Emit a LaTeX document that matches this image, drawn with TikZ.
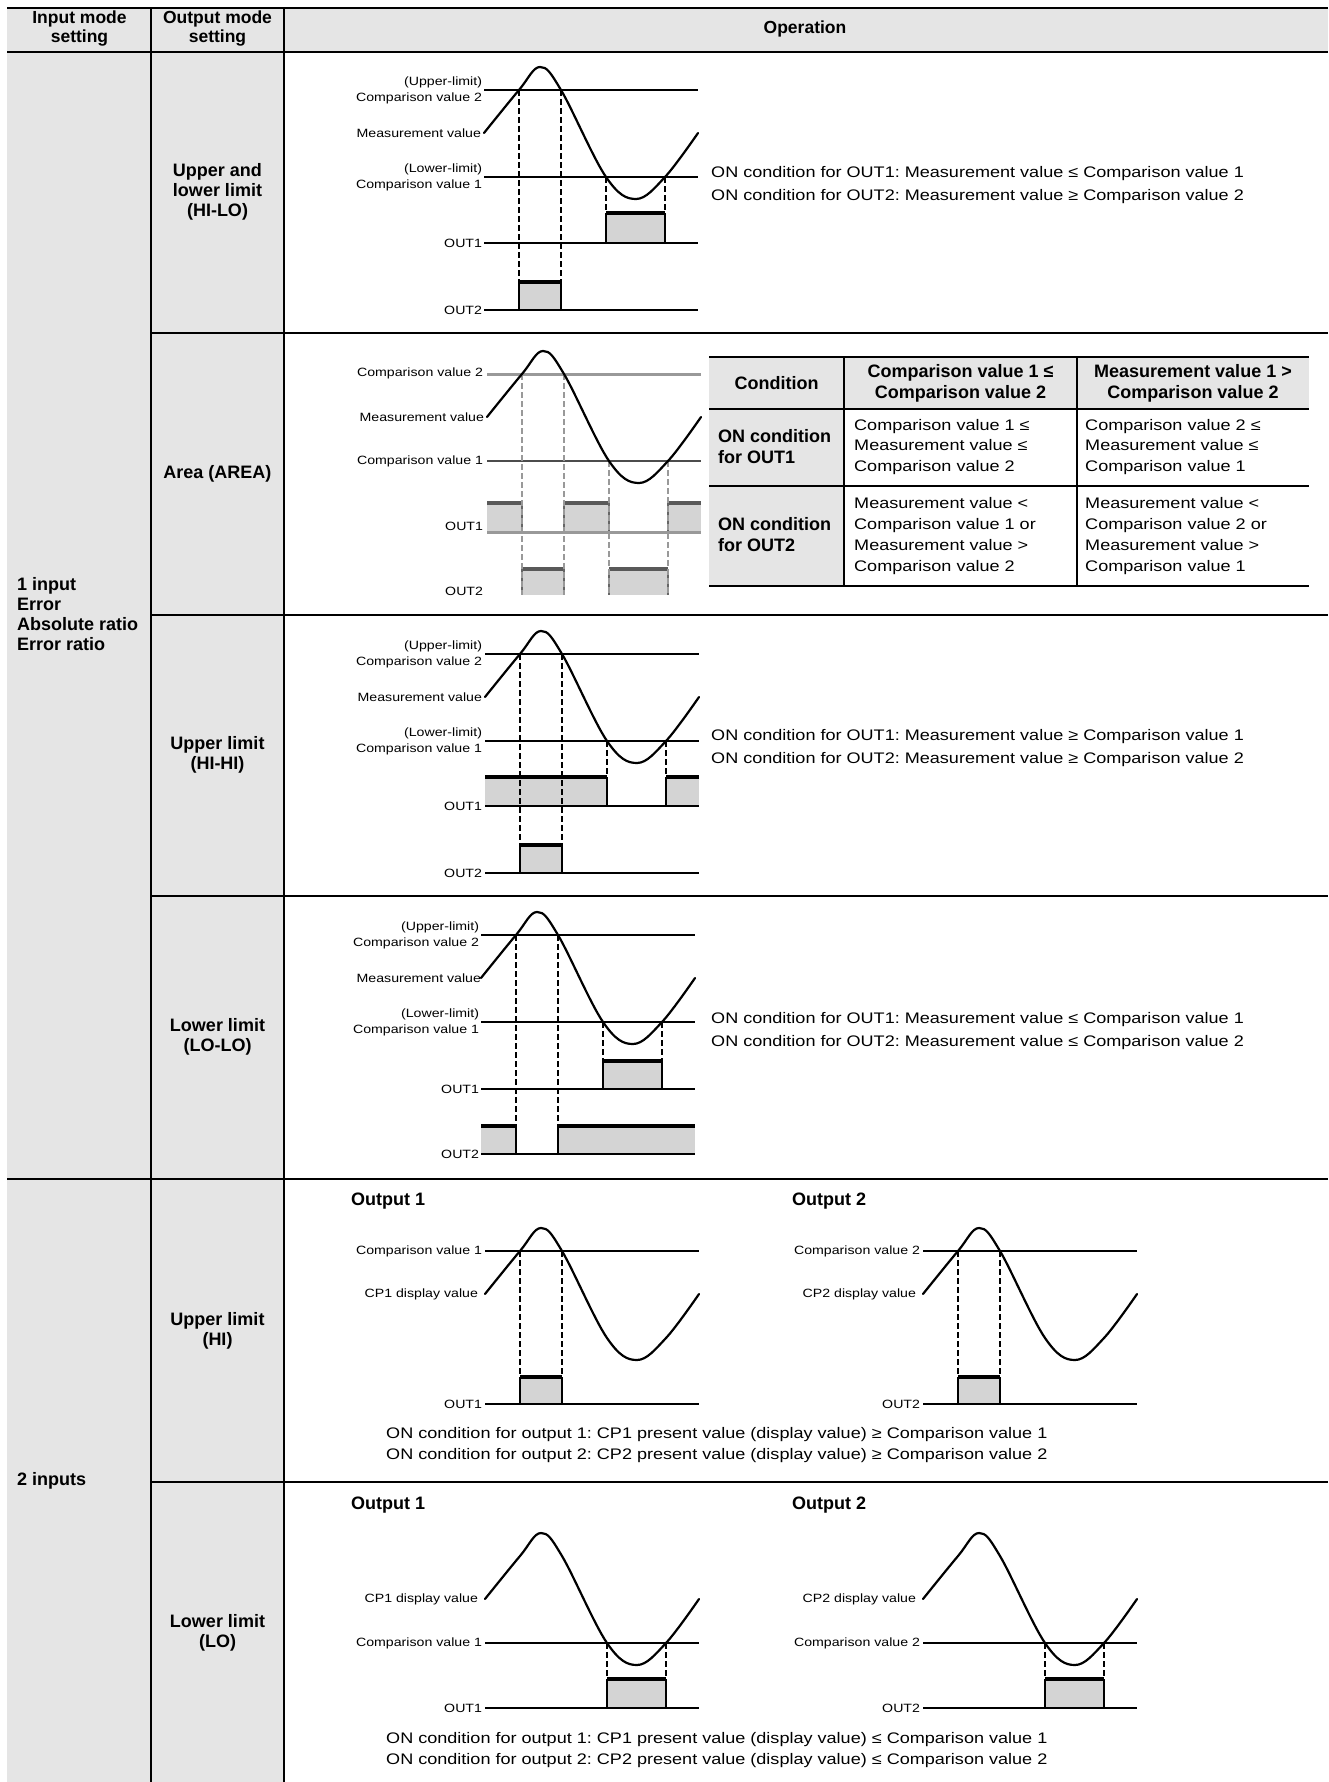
\documentclass[tikz,border=0pt]{standalone}
\usepackage{fontspec}
\setmainfont{Liberation Sans}
\newfontfamily\wf{Liberation Sans}[FakeStretch=1.18]
\definecolor{bgc}{RGB}{229,229,229}
\definecolor{blkfill}{RGB}{212,212,212}
\newcommand\labf{\wf\fontsize{12}{16}\selectfont}
\newcommand\condf{\wf\fontsize{15.3}{23}\selectfont}
\newcommand\condg{\wf\fontsize{15.3}{21}\selectfont}
\newcommand\cellf{\wf\fontsize{15.3}{20.7}\selectfont}
\newcommand\boldf{\bfseries\fontsize{18}{20}\selectfont}
\newcommand\tboldf{\bfseries\fontsize{18}{21}\selectfont}
\newcommand\hboldf{\bfseries\fontsize{17.5}{19}\selectfont}
\frenchspacing
\tikzset{
  lvl/.style={line width=1.4pt},
  wav/.style={line width=2.2pt, line cap=round},
  dsh/.style={line width=1.3pt, dash pattern=on 6pt off 3pt},
  blkbar/.style={line width=4pt},
  sd/.style={line width=1.5pt},
  lbl/.style={font=\labf, anchor=east, align=right, inner sep=0pt, outer sep=0pt},
  cond/.style={font=\condf, anchor=west, align=left, inner sep=0pt},
  condb/.style={font=\condg, anchor=west, align=left, inner sep=0pt},
  hd/.style={font=\hboldf, align=center, inner sep=0pt},
  mode/.style={font=\boldf, align=center, inner sep=0pt},
  grp/.style={font=\boldf, align=left, anchor=west, inner sep=0pt},
  outt/.style={font=\boldf, anchor=west, inner sep=0pt},
  th/.style={font=\tboldf, align=center, inner sep=0pt},
  trh/.style={font=\tboldf, align=left, anchor=west, inner sep=0pt},
  tc/.style={font=\cellf, align=left, anchor=west, inner sep=0pt},
  glvl/.style={line width=3pt, black!40},
  gthin/.style={line width=1.3pt, black!70},
  gdsh/.style={line width=1.1pt, black!40, dash pattern=on 6pt off 3pt},
  gbar/.style={line width=3.5pt, black!65},
  gsd/.style={line width=1.2pt, black!60},
}
\newcommand\wave[2]{\draw[wav] plot[smooth,tension=0.6] coordinates {(#1,#2) ({#1+35},{#2-43}) ({#1+56},{#2-66}) ({#1+77},{#2-43}) ({#1+122},{#2+44}) ({#1+152},{#2+66}) ({#1+181},{#2+44}) ({#1+214},{#2})};}
\newcommand\blok[4]{\fill[blkfill] (#1,#3) rectangle (#2,#4); \draw[blkbar] (#1,#3) -- (#2,#3);}
\newcommand\gblok[4]{\fill[blkfill] (#1,#3) rectangle (#2,#4); \draw[gbar] (#1,#3) -- (#2,#3);}
\begin{document}
\begin{tikzpicture}[x=1pt,y=-1pt,line join=round]
\useasboundingbox (0,0) rectangle (1328,1782);
\fill[white] (0,0) rectangle (1328,1782);
% backgrounds
\fill[bgc] (7,8) rectangle (284,1782);
\fill[bgc] (284,8) rectangle (1328,52);
% grid
\draw[line width=2.5pt] (7,8) -- (1328,8);
\draw[line width=2.5pt] (7,52) -- (1328,52);
\draw[line width=2.2pt] (151,8) -- (151,1782);
\draw[line width=2.2pt] (284,8) -- (284,1782);
\draw[line width=1.8pt] (151,333) -- (1328,333);
\draw[line width=1.8pt] (151,615) -- (1328,615);
\draw[line width=1.8pt] (151,896) -- (1328,896);
\draw[line width=1.8pt] (7,1179) -- (1328,1179);
\draw[line width=1.8pt] (151,1482) -- (1328,1482);
% headers
\node[hd] (h1) at (79.5,29) {Input mode\\setting};
\node[hd] (h2) at (217.5,29) {Output mode\\setting};
\node[hd] (h3) at (805,29) {Operation};
% column 1
\node[grp] (g1) at (17,614) {1 input\\Error\\Absolute ratio\\Error ratio};
\node[grp] (g2) at (17,1481) {2 inputs};
% column 2
\node[mode] (m1) at (217.5,192) {Upper and\\lower limit\\(HI-LO)};
\node[mode] (m2) at (217.5,474) {Area (AREA)};
\node[mode] (m3) at (217.5,755) {Upper limit\\(HI-HI)};
\node[mode] (m4) at (217.5,1037) {Lower limit\\(LO-LO)};
\node[mode] (m5) at (217.5,1331) {Upper limit\\(HI)};
\node[mode] (m6) at (217.5,1633) {Lower limit\\(LO)};

% ===== HI-LO =====
\blok{606}{665}{213}{243}
\draw[sd] (606,213) -- (606,243) (665,213) -- (665,243);
\blok{519}{561}{282}{310}
\draw[sd] (519,282) -- (519,310) (561,282) -- (561,310);
\draw[lvl] (484,90) -- (698,90) (484,177) -- (698,177) (484,243) -- (698,243) (484,310) -- (698,310);
\draw[dsh] (519,90) -- (519,282) (561,90) -- (561,282) (606,177) -- (606,213) (665,177) -- (665,213);
\wave{484}{133}
\node[lbl] (a1) at (482,90) {(Upper-limit)\\Comparison value 2};
\node[lbl] (a2) at (481,133) {Measurement value};
\node[lbl] (a3) at (482,177) {(Lower-limit)\\Comparison value 1};
\node[lbl] (a4) at (482,243) {OUT1};
\node[lbl] (a5) at (482,310) {OUT2};
\node[cond] (a6) at (711,185.5) {ON condition for OUT1: Measurement value ≤ Comparison value 1\\ON condition for OUT2: Measurement value ≥ Comparison value 2};

% ===== AREA =====
\gblok{487}{522}{503}{532}
\gblok{564}{609}{503}{532}
\gblok{668}{701}{503}{532}
\gblok{522}{564}{569}{595}
\gblok{609}{668}{569}{595}
\draw[gsd] (522,503) -- (522,532) (564,503) -- (564,532) (609,503) -- (609,532) (668,503) -- (668,532);
\draw[gsd] (522,569) -- (522,595) (564,569) -- (564,595) (609,569) -- (609,595) (668,569) -- (668,595);
\draw[glvl] (487,374) -- (701,374);
\draw[glvl] (487,532) -- (701,532);
\draw[gthin] (487,461) -- (701,461);
\draw[gdsh] (522,374) -- (522,595) (564,374) -- (564,595) (609,461) -- (609,595) (668,461) -- (668,595);
\wave{487}{417}
\node[lbl] (b1) at (483,373) {Comparison value 2};
\node[lbl] (b2) at (484,417) {Measurement value};
\node[lbl] (b3) at (483,461) {Comparison value 1};
\node[lbl] (b4) at (483,526) {OUT1};
\node[lbl] (b5) at (483,591) {OUT2};
% table
\fill[bgc] (709,357) rectangle (1309,409);
\fill[bgc] (709,409) rectangle (844,586);
\draw[line width=1.5pt] (844,357) -- (844,586) (1077,357) -- (1077,586);
\draw[line width=2.5pt] (709,357) -- (1309,357);
\draw[line width=2.2pt] (709,409) -- (1309,409);
\draw[line width=2.2pt] (709,486) -- (1309,486);
\draw[line width=2.5pt] (709,586) -- (1309,586);
\node[th] (t1) at (776.5,383) {Condition};
\node[th] (t2) at (960.5,383) {Comparison value 1 ≤\\Comparison value 2};
\node[th] (t3) at (1193,383) {Measurement value 1 >\\Comparison value 2};
\node[trh] (t4) at (718,447) {ON condition\\for OUT1};
\node[trh] (t5) at (718,535) {ON condition\\for OUT2};
\node[tc] (t6) at (854,447) {Comparison value 1 ≤\\Measurement value ≤\\Comparison value 2};
\node[tc] (t7) at (1085,447) {Comparison value 2 ≤\\Measurement value ≤\\Comparison value 1};
\node[tc] (t8) at (854,536) {Measurement value <\\Comparison value 1 or\\Measurement value >\\Comparison value 2};
\node[tc] (t9) at (1085,536) {Measurement value <\\Comparison value 2 or\\Measurement value >\\Comparison value 1};

% ===== HI-HI =====
\blok{485}{607}{777}{806}
\draw[sd] (607,777) -- (607,806);
\blok{666}{699}{777}{806}
\draw[sd] (666,777) -- (666,806);
\blok{520}{562}{845}{873}
\draw[sd] (520,845) -- (520,873) (562,845) -- (562,873);
\draw[lvl] (485,654) -- (699,654) (485,741) -- (699,741) (485,806) -- (699,806) (485,873) -- (699,873);
\draw[dsh] (520,654) -- (520,845) (562,654) -- (562,845) (607,741) -- (607,777) (666,741) -- (666,777);
\wave{485}{697}
\node[lbl] (c1) at (482,654) {(Upper-limit)\\Comparison value 2};
\node[lbl] (c2) at (482,697) {Measurement value};
\node[lbl] (c3) at (482,741) {(Lower-limit)\\Comparison value 1};
\node[lbl] (c4) at (482,806) {OUT1};
\node[lbl] (c5) at (482,873) {OUT2};
\node[cond] (c6) at (711,748.5) {ON condition for OUT1: Measurement value ≥ Comparison value 1\\ON condition for OUT2: Measurement value ≥ Comparison value 2};

% ===== LO-LO =====
\blok{603}{662}{1061}{1089}
\draw[sd] (603,1061) -- (603,1089) (662,1061) -- (662,1089);
\blok{481}{516}{1126}{1154}
\draw[sd] (516,1126) -- (516,1154);
\blok{558}{695}{1126}{1154}
\draw[sd] (558,1126) -- (558,1154);
\draw[lvl] (481,935) -- (695,935) (481,1022) -- (695,1022) (481,1089) -- (695,1089) (481,1154) -- (695,1154);
\draw[dsh] (516,935) -- (516,1126) (558,935) -- (558,1126) (603,1022) -- (603,1061) (662,1022) -- (662,1061);
\wave{481}{978}
\node[lbl] (d1) at (479,935) {(Upper-limit)\\Comparison value 2};
\node[lbl] (d2) at (481,978) {Measurement value};
\node[lbl] (d3) at (479,1022) {(Lower-limit)\\Comparison value 1};
\node[lbl] (d4) at (479,1089) {OUT1};
\node[lbl] (d5) at (479,1154) {OUT2};
\node[cond] (d6) at (711,1031.5) {ON condition for OUT1: Measurement value ≤ Comparison value 1\\ON condition for OUT2: Measurement value ≤ Comparison value 2};

% ===== 2 inputs, HI =====
\node[outt] (e0) at (351,1201) {Output 1};
\node[outt] (e00) at (792,1201) {Output 2};
\blok{520}{562}{1377}{1404}
\draw[sd] (520,1377) -- (520,1404) (562,1377) -- (562,1404);
\draw[lvl] (485,1251) -- (699,1251) (485,1404) -- (699,1404);
\draw[dsh] (520,1251) -- (520,1377) (562,1251) -- (562,1377);
\wave{485}{1294}
\node[lbl] (e1) at (482,1251) {Comparison value 1};
\node[lbl] (e2) at (478,1294) {CP1 display value};
\node[lbl] (e3) at (482,1404) {OUT1};
\blok{958}{1000}{1377}{1404}
\draw[sd] (958,1377) -- (958,1404) (1000,1377) -- (1000,1404);
\draw[lvl] (923,1251) -- (1137,1251) (923,1404) -- (1137,1404);
\draw[dsh] (958,1251) -- (958,1377) (1000,1251) -- (1000,1377);
\wave{923}{1294}
\node[lbl] (e4) at (920,1251) {Comparison value 2};
\node[lbl] (e5) at (916,1294) {CP2 display value};
\node[lbl] (e6) at (920,1404) {OUT2};
\node[condb] (e7) at (386,1445) {ON condition for output 1: CP1 present value (display value) ≥ Comparison value 1\\ON condition for output 2: CP2 present value (display value) ≥ Comparison value 2};

% ===== 2 inputs, LO =====
\node[outt] (f0) at (351,1505) {Output 1};
\node[outt] (f00) at (792,1505) {Output 2};
\blok{607}{666}{1679}{1708}
\draw[sd] (607,1679) -- (607,1708) (666,1679) -- (666,1708);
\draw[lvl] (485,1643) -- (699,1643) (485,1708) -- (699,1708);
\draw[dsh] (607,1643) -- (607,1679) (666,1643) -- (666,1679);
\wave{485}{1599}
\node[lbl] (f1) at (478,1599) {CP1 display value};
\node[lbl] (f2) at (482,1643) {Comparison value 1};
\node[lbl] (f3) at (482,1708) {OUT1};
\blok{1045}{1104}{1679}{1708}
\draw[sd] (1045,1679) -- (1045,1708) (1104,1679) -- (1104,1708);
\draw[lvl] (923,1643) -- (1137,1643) (923,1708) -- (1137,1708);
\draw[dsh] (1045,1643) -- (1045,1679) (1104,1643) -- (1104,1679);
\wave{923}{1599}
\node[lbl] (f4) at (916,1599) {CP2 display value};
\node[lbl] (f5) at (920,1643) {Comparison value 2};
\node[lbl] (f6) at (920,1708) {OUT2};
\node[condb] (f7) at (386,1750.5) {ON condition for output 1: CP1 present value (display value) ≤ Comparison value 1\\ON condition for output 2: CP2 present value (display value) ≤ Comparison value 2};
\end{tikzpicture}
\end{document}
